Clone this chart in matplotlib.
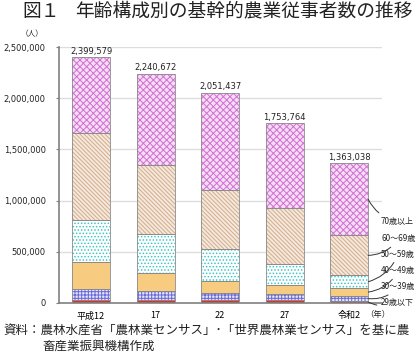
import matplotlib
matplotlib.use("Agg")
import matplotlib.pyplot as plt
import numpy as np

plt.rcParams['font.family'] = ['Noto Sans CJK JP', 'DejaVu Sans']
plt.rcParams['hatch.linewidth'] = 0.7

years = ["平成12", "17", "22", "27", "令和2"]
age_groups = ["29歳以下", "30～39歳", "40～49歳", "50～59歳", "60～69歳", "70歳以上"]
totals = [2399579, 2240672, 2051437, 1753764, 1363038]
v29 = [33000, 30000, 27000, 25000, 18000]
v30 = [104000, 87000, 71000, 63000, 50000]
v40 = [266000, 173000, 117000, 88000, 77000]
v50 = [404000, 384000, 310000, 200000, 125000]
v60 = [850000, 674000, 580000, 550000, 390000]
v70 = [t - (a + b + c + d + e) for t, a, b, c, d, e in zip(totals, v29, v30, v40, v50, v60)]
series = [v29, v30, v40, v50, v60, v70]

styles = [
    dict(face="#E83020", hatch=None, hcol="#E83020"),
    dict(face="#E4E4FA", hatch="+++++", hcol="#6A6AD8"),
    dict(face="#F8CC80", hatch=None, hcol="#F8CC80"),
    dict(face="#FFFFFF", hatch=".....", hcol="#40C4C4"),
    dict(face="#F6E8DA", hatch="\\\\\\\\\\\\\\\\", hcol="#D0AE90"),
    dict(face="#F6DCF6", hatch="xxxxx", hcol="#D070D0"),
]

fig = plt.figure(figsize=(4.2, 3.63), dpi=100)
ax = fig.add_axes([59/420, 60/363, 323/420, 256/363])

x = np.arange(len(years))
width = 0.59
bottom = np.zeros(len(years))
for vals, st in zip(series, styles):
    vals = np.array(vals, dtype=float)
    ax.bar(x, vals, width, bottom=bottom, color=st["face"], hatch=st["hatch"],
           edgecolor=st["hcol"], linewidth=0, zorder=2)
    ax.bar(x, vals, width, bottom=bottom, fill=False, edgecolor="#8A8A8A",
           linewidth=0.6, zorder=3)
    bottom += vals

for xi, t in zip(x, totals):
    ax.text(xi, t + 15000, f"{t:,}", ha="center", va="bottom", fontsize=6,
            family=['DejaVu Sans'], color="#222222")

ax.set_xlim(-0.496, 4.508)
ax.set_ylim(0, 2500000)
ax.set_yticks(np.arange(0, 2500001, 500000))
ax.set_yticklabels([f"{v:,}" for v in range(0, 2500001, 500000)], fontsize=6,
                   family=['DejaVu Sans'])
ax.set_xticks(x)
ax.set_xticklabels(years, fontsize=6.5)
ax.tick_params(axis='x', length=0, pad=6)
ax.tick_params(axis='y', length=2.5, width=0.8, color="#808080", pad=7, labelcolor="#222222")
ax.yaxis.grid(True, color="#DDDDDD", linewidth=1, zorder=0)
ax.set_axisbelow(True)
for s in ["top", "right"]:
    ax.spines[s].set_visible(False)
ax.spines["left"].set_color("#808080")
ax.spines["bottom"].set_color("#808080")
ax.spines["left"].set_linewidth(1.2)
ax.spines["bottom"].set_linewidth(1.2)

# legend labels with leader lines
label_y_px = [302, 287, 271, 254, 239, 221]
cum = np.zeros(len(years))
last = len(years) - 1
for vals, lab, ypx in zip(series, age_groups, label_y_px):
    mid = cum[last] + vals[last] / 2
    cum += np.array(vals, dtype=float)
    ax.annotate(lab, xy=(last + width / 2, mid), xycoords='data',
                xytext=(381 / 420, 1 - ypx / 363), textcoords='figure fraction',
                fontsize=5.8, va="center", ha="left", color="#222222",
                arrowprops=dict(arrowstyle='-', color="#333333", lw=0.7,
                                shrinkA=1, shrinkB=0,
                                connectionstyle="arc3,rad=-0.25"))

fig.text(365 / 420, 1 - 315 / 363, "（年）", fontsize=6, va="center", ha="left", color="#222222")
fig.text(32 / 420, 1 - 34.5 / 363, "（人）", fontsize=5.5, va="center", ha="center", color="#222222")

fig.text(22 / 420, 1 - 11 / 363, "図１", fontsize=13.5, va="center", ha="left", color="#222222")
fig.text(75 / 420, 1 - 11 / 363, "年齢構成別の基幹的農業従事者数の推移", fontsize=13.5,
         va="center", ha="left", color="#222222")

fig.text(3 / 420, 1 - 330 / 363, "資料：農林水産省「農林業センサス」･「世界農林業センサス」を基に農",
         fontsize=9, va="center", ha="left", color="#222222")
fig.text(42 / 420, 1 - 346 / 363, "畜産業振興機構作成", fontsize=9, va="center", ha="left", color="#222222")

fig.savefig("out.png", dpi=100)
